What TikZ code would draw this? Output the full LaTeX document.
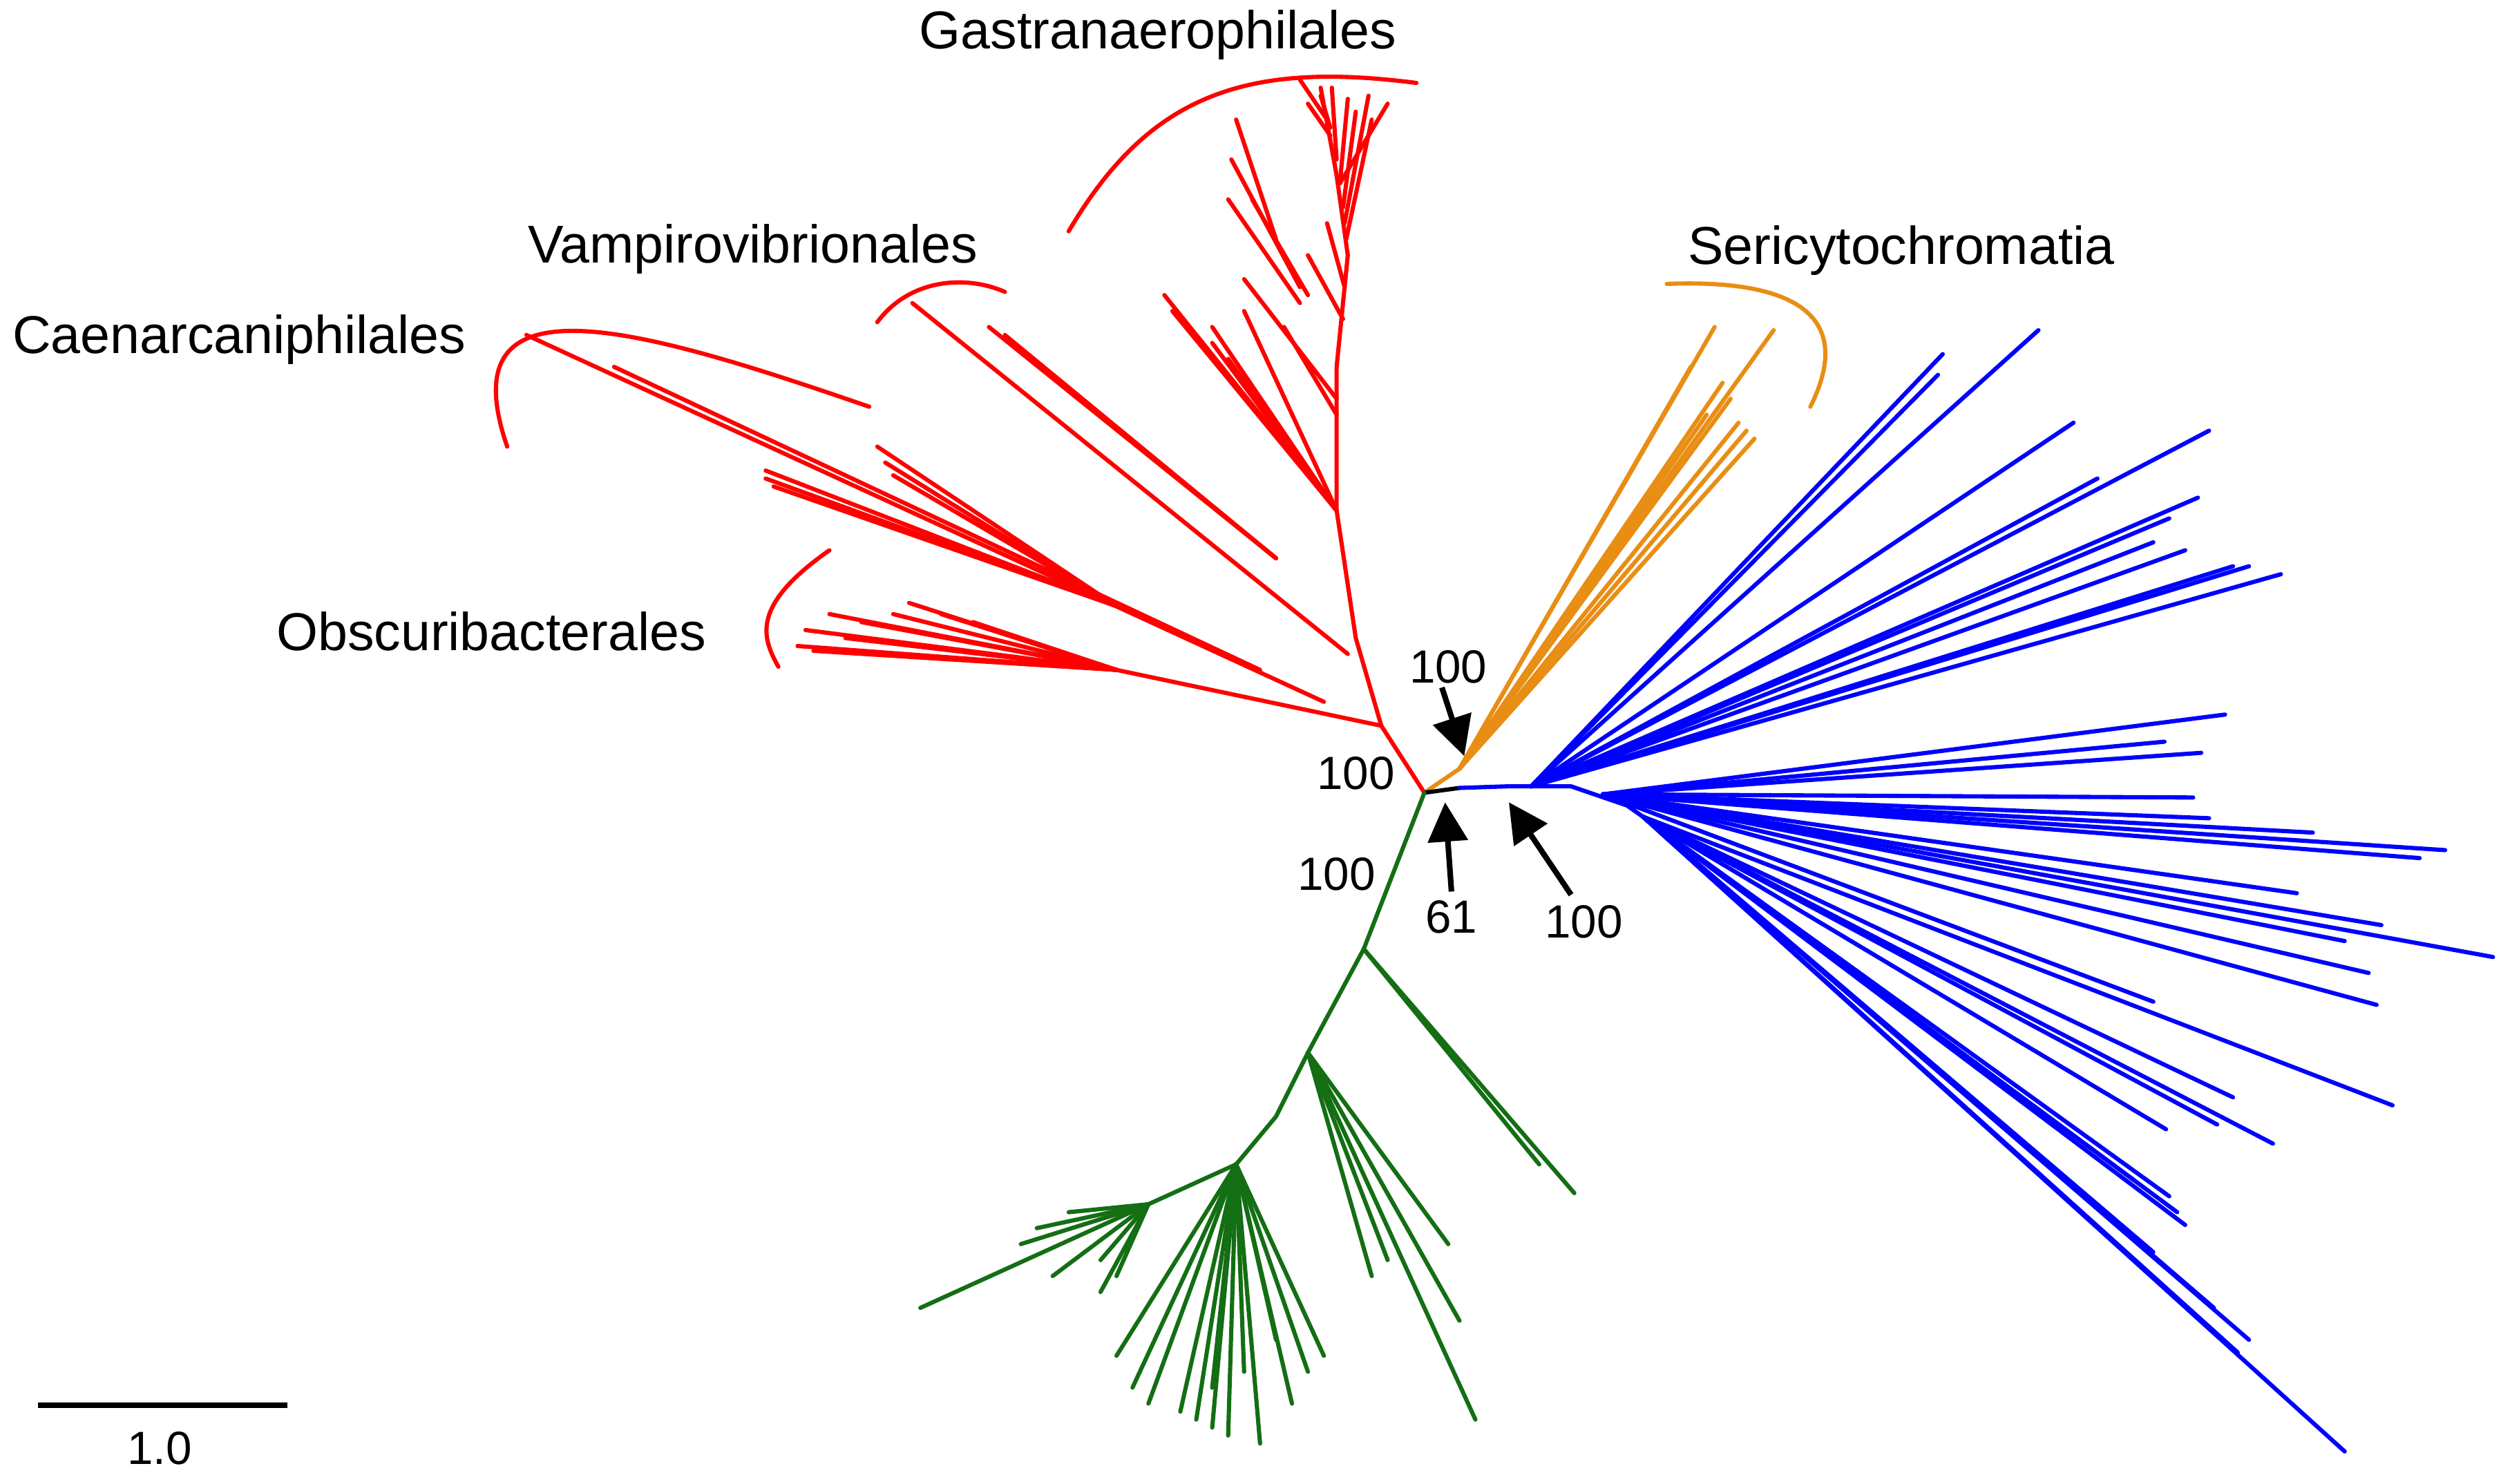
\documentclass[tikz,border=0pt]{standalone}
\usepackage{fontspec}
\setmainfont{Liberation Sans}
\usetikzlibrary{arrows.meta}
\definecolor{tred}{RGB}{255,0,0}
\definecolor{tor}{RGB}{232,142,20}
\definecolor{tbl}{RGB}{0,0,255}
\definecolor{tgr}{RGB}{20,110,20}
\begin{document}
\begin{tikzpicture}[x=0.01cm,y=-0.01cm,
 br/.style={line width=0.75pt,line cap=round,line join=round},
 lab/.style={font=\fontsize{9.5}{10}\selectfont,inner sep=0pt},
 num/.style={font=\fontsize{8.3}{9}\selectfont,inner sep=0pt},
 arr/.style={line width=1pt,-{Triangle[length=7pt,width=7pt]}}]
\useasboundingbox (0,0) rectangle (1568,930);
% red
\draw[br,tred] (893,497)--(866,455)--(850,400)--(838,320)--(838,230)--(845,160)--(838,110)--(828,55);
\foreach \qa/\qb in {{(832,75)}/{(815,50)},{(834,85)}/{(820,65)},{(834,80)}/{(828,60)},{(838,100)}/{(835,55)},{(840,115)}/{(845,62)},{(842,130)}/{(850,70)},{(843,140)}/{(858,60)},{(844,150)}/{(860,75)},{(840,115)}/{(870,65)}} \draw[br,tred] \qa--\qb;
\foreach \qa/\qb in {{(815,180)}/{(772,100)},{(800,150)}/{(775,75)},{(820,185)}/{(785,125)},{(815,190)}/{(770,125)},{(838,250)}/{(780,175)},{(838,260)}/{(805,205)},{(842,200)}/{(820,160)},{(843,180)}/{(832,140)}} \draw[br,tred] \qa--\qb;
\foreach \p in {(730,185),(735,195),(740,200),(745,205),(750,210),(760,215),(770,225),(780,195),(760,205)} \draw[br,tred] (838,320)--\p;
\draw[br,tred] (572,190)--(845,410);
\foreach \p in {(620,205),(630,210),(635,215),(640,220)} \draw[br,tred] (800,350)--\p;
\draw[br,tred] (330,210)--(830,440);
\draw[br,tred] (385,230)--(790,420);
\foreach \p in {(480,295),(480,300),(485,305),(550,280),(555,290),(560,298)} \draw[br,tred] (700,380)--\p;
\draw[br,tred] (866,455)--(700,420);
\foreach \p in {(500,405),(505,395),(520,385),(540,390),(560,385),(570,378),(590,385),(610,390),(510,408),(530,400)} \draw[br,tred] (700,420)--\p;
\draw[br,tred] (670,145) .. controls (720,60) and (780,38) .. (888,52);
\draw[br,tred] (550,202) .. controls (570,175) and (605,172) .. (630,183);
\draw[br,tred] (545,255) .. controls (400,205) and (280,170) .. (318,280);
\draw[br,tred] (520,345) .. controls (470,380) and (478,400) .. (488,418);
% orange
\draw[br,tor] (893,497)--(915,482);
\foreach \p in {(1075,205),(1112,207),(1080,240),(1085,250),(1090,265),(1095,270),(1100,275),(1070,260),(1060,230)} \draw[br,tor] (915,482)--\p;
\draw[br,tor] (1045,178) .. controls (1120,175) and (1165,195) .. (1135,255);
% blue
\draw[br,black] (893,497)--(915,494);
\draw[br,tbl] (915,494)--(945,493)--(985,493)--(1020,505)--(1030,512);
\foreach \p in {(1278,207),(1218,222),(1215,235),(1300,265),(1385,270),(1315,300),(1378,312),(1360,325),(1370,345),(1400,355),(1430,360),(1410,355),(1350,340)} \draw[br,tbl] (960,493)--\p;
\foreach \p in {(1395,448),(1357,465),(1380,472),(1375,500),(1385,513),(1450,522),(1533,533),(1517,538),(1440,560),(1493,580),(1470,590),(1563,600),(1485,610),(1490,630),(1350,628)} \draw[br,tbl] (1005,498)--\p;
\foreach \p in {(1500,693),(1400,688),(1425,717),(1390,705),(1358,708),(1338,740),(1360,750),(1365,760),(1370,768),(1350,785),(1388,820),(1403,848),(1410,840),(1470,910)} \draw[br,tbl] (1030,512)--\p;
% green
\draw[br,tgr] (893,497)--(855,595)--(820,660)--(800,700)--(775,730);
\foreach \p in {(965,730),(987,748)} \draw[br,tgr] (855,595)--\p;
\foreach \p in {(908,780),(915,828),(925,890),(870,790),(860,800)} \draw[br,tgr] (820,660)--\p;
\draw[br,tgr] (775,730)--(720,755);
\foreach \p in {(577,820),(650,770),(670,760),(690,790),(700,800),(690,810),(660,800),(640,780)} \draw[br,tgr] (720,755)--\p;
\foreach \p in {(700,850),(710,870),(720,880),(740,885),(750,890),(760,895),(770,900),(790,905),(810,880),(820,860),(830,850),(800,840),(780,860),(760,870)} \draw[br,tgr] (775,730)--\p;
% labels
\node[lab] (g) at (726,22) {Gastranaerophilales};
\node[lab] (v) at (472,156) {Vampirovibrionales};
\node[lab] (c) at (150,213) {Caenarcaniphilales};
\node[lab] (o) at (308,396) {Obscuribacterales};
\node[lab] (s) at (1192,157) {Sericytochromatia};
\node[num] (n1) at (908,418) {100};
\node[num] (n2) at (850,485) {100};
\node[num] (n3) at (838,548) {100};
\node[num] (n4) at (910,575) {61};
\node[num] (n5) at (993,578) {100};
\coordinate (t1) at (918,474); \coordinate (t4) at (906,503); \coordinate (t5) at (946,503);
\draw[arr] (n1.south)++(-4,2)--(t1);
\draw[arr] (n4.north)++(0,-5)--(t4);
\draw[arr] (n5.north)++(-8,-6)--(t5);
\draw[line width=1pt] (24,881)--(180,881);
\node[num] (sc) at (100,908) {1.0};
\end{tikzpicture}
\end{document}
